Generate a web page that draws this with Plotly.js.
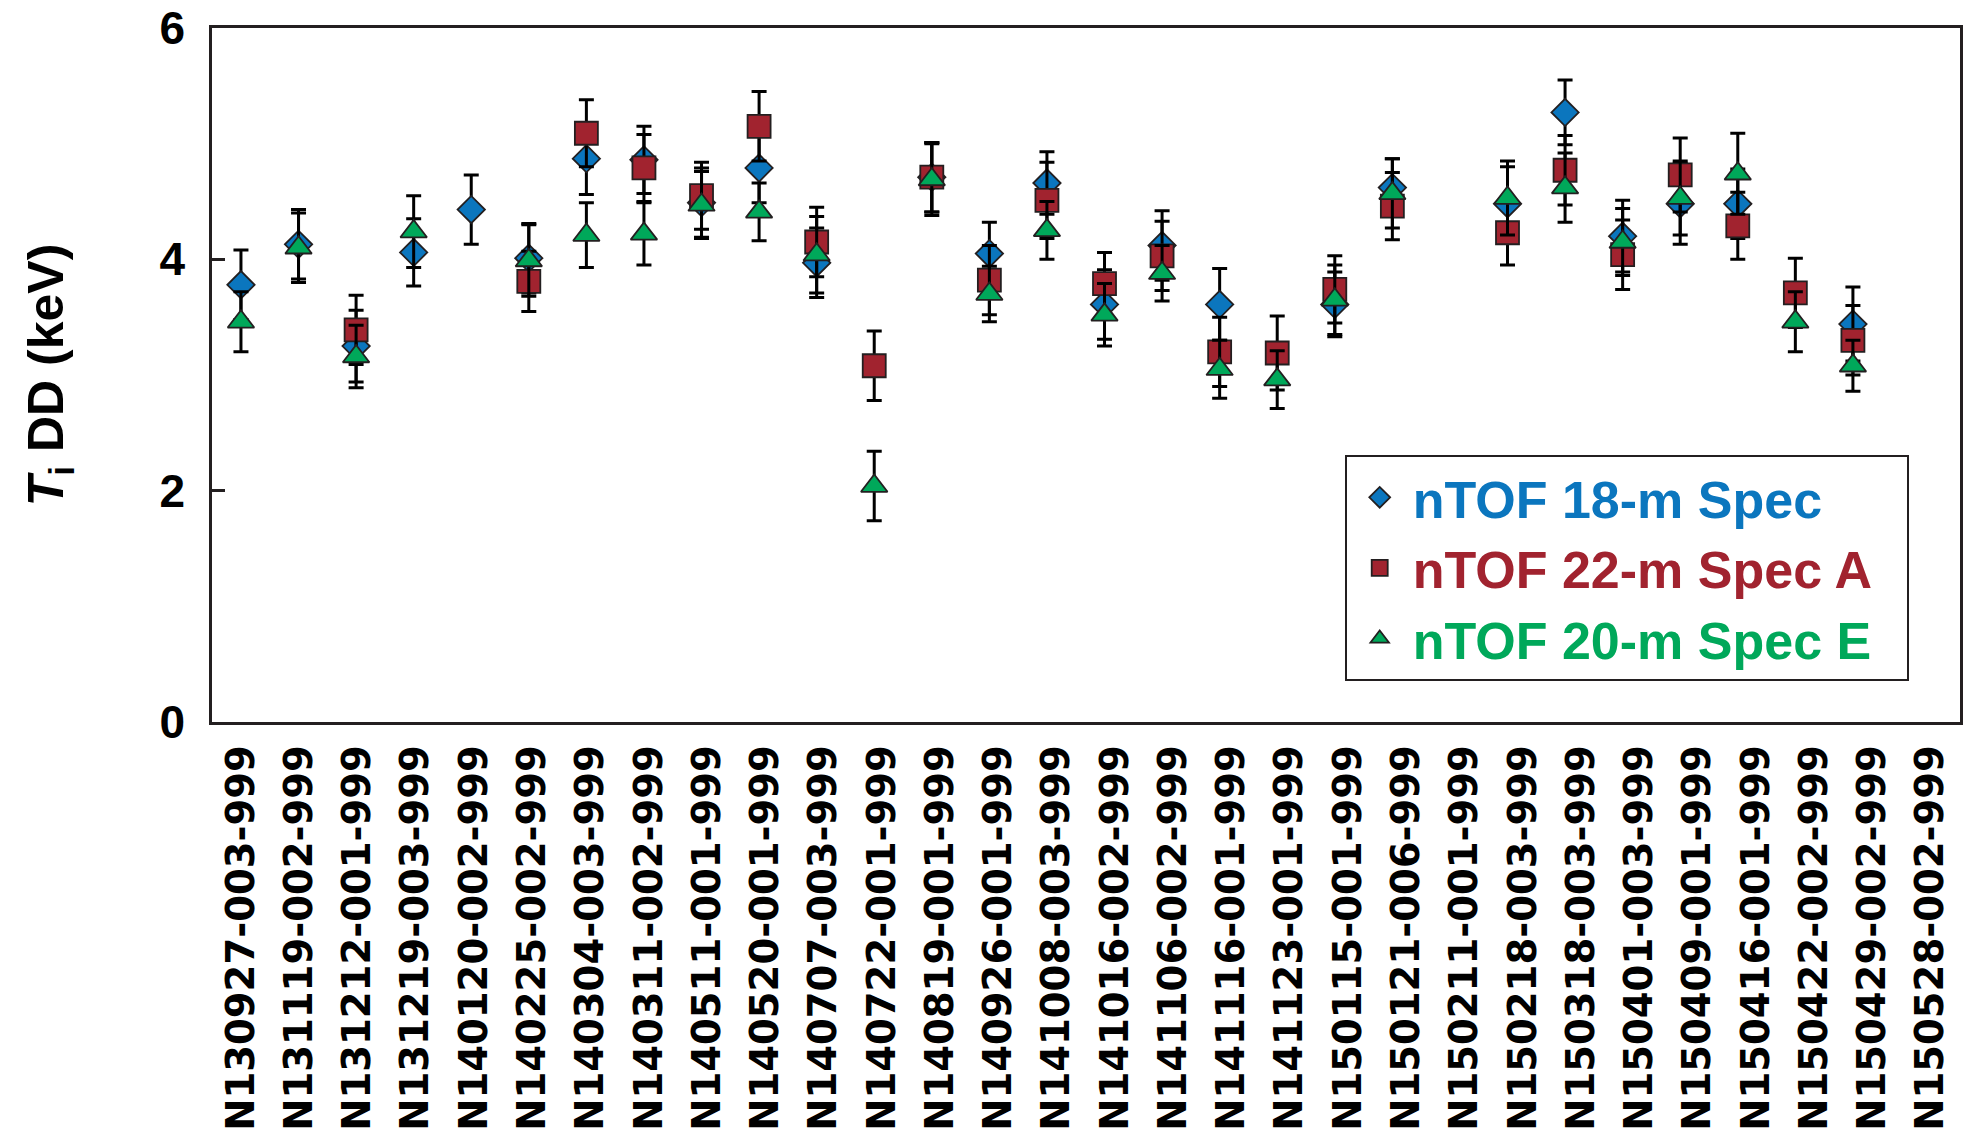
<!DOCTYPE html>
<html>
<head>
<meta charset="utf-8">
<script src="https://cdn.plot.ly/plotly-3.0.1.min.js"></script>
<style>
html,body{margin:0;padding:0;background:#ffffff;}
#chart{width:1967px;height:1130px;}
</style>
</head>
<body>
<div id="chart"></div>
<script>
// Shot numbers (x categories)
const shots = [
  "N130927-003-999","N131119-002-999","N131212-001-999","N131219-003-999",
  "N140120-002-999","N140225-002-999","N140304-003-999","N140311-002-999",
  "N140511-001-999","N140520-001-999","N140707-003-999","N140722-001-999",
  "N140819-001-999","N140926-001-999","N141008-003-999","N141016-002-999",
  "N141106-002-999","N141116-001-999","N141123-001-999","N150115-001-999",
  "N150121-006-999","N150211-001-999","N150218-003-999","N150318-003-999",
  "N150401-003-999","N150409-001-999","N150416-001-999","N150422-002-999",
  "N150429-002-999","N150528-002-999"
];

// nTOF 18-m Spec (keV)
const spec18 = [3.78,4.13,3.25,4.06,4.43,4.01,4.87,4.86,4.49,4.79,
                3.97,null,4.71,4.05,4.66,3.61,4.12,3.61,null,3.61,
                4.62,null,4.48,5.27,4.20,4.48,4.48,null,3.44,null];
const spec18Err = [0.30,0.30,0.31,0.29,0.30,0.30,0.31,0.29,0.30,0.30,
                   0.30,null,0.30,0.27,0.27,0.30,0.30,0.31,null,0.28,
                   0.25,null,0.32,0.28,0.31,0.35,0.30,null,0.32,null];

// nTOF 22-m Spec A (keV)
const spec22A = [null,null,3.39,null,null,3.81,5.09,4.79,4.55,5.15,
                 4.15,3.08,4.71,3.82,4.51,3.79,4.03,3.20,3.19,3.74,
                 4.46,null,4.23,4.77,4.04,4.73,4.29,3.71,3.30,null];
const spec22AErr = [null,null,0.30,null,null,0.26,0.29,0.29,0.29,0.30,
                    0.30,0.30,0.30,0.30,0.33,0.27,0.30,0.30,0.32,0.29,
                    0.29,null,0.28,0.30,0.30,0.32,0.29,0.30,0.30,null];

// nTOF 20-m Spec E (keV)
const spec20E = [3.46,4.10,3.16,4.24,null,3.99,4.21,4.22,4.47,4.41,
                 4.04,2.04,4.69,3.70,4.25,3.52,3.88,3.05,2.96,3.65,
                 4.57,null,4.53,4.62,4.15,4.53,4.74,3.46,3.08,null];
const spec20EErr = [0.26,0.30,0.27,0.31,null,0.31,0.28,0.27,0.29,0.25,
                    0.33,0.30,0.31,0.24,0.25,0.27,0.24,0.25,0.25,0.30,
                    0.30,null,0.32,0.30,0.29,0.32,0.35,0.26,0.22,null];

const yTicks = [0, 2, 4, 6];

const frame = '#231f20';
const blue = '#0b76be', red = '#a1232f', green = '#00a85a';

function series(name, color, symbol, size, y, err) {
  return {
    type: 'scatter', mode: 'markers',
    name: '<span style="color:' + color + '">' + name + '\u00a0\u00a0</span>',
    x: shots, y: y, xaxis: 'x2', yaxis: 'y',
    marker: {symbol: symbol, size: size, color: color, line: {color: frame, width: 1.8}},
    error_y: {type: 'data', array: err, visible: true, color: '#000000', thickness: 3, width: 7.5},
    hoverinfo: 'x+y'
  };
}

const traces = [
  // carrier for the labelled category axis and the right-hand ticks (draws nothing)
  {type: 'scatter', mode: 'none', x: shots, y: shots.map(() => null),
   xaxis: 'x', yaxis: 'y2', showlegend: false, hoverinfo: 'skip'},
  series('nTOF 18-m Spec', blue, 'diamond', 21, spec18, spec18Err),
  series('nTOF 22-m Spec A', red, 'square', 23, spec22A, spec22AErr),
  series('nTOF 20-m Spec E', green, 'triangle-up', 23, spec20E, spec20EErr)
];

const layout = {
  width: 1967, height: 1130,
  margin: {l: 212, r: 7, t: 28, b: 408},
  paper_bgcolor: '#ffffff', plot_bgcolor: '#ffffff',
  showlegend: true,
  legend: {
    x: 0.648, xanchor: 'left', y: 0.059, yanchor: 'bottom',
    bgcolor: '#ffffff', bordercolor: frame, borderwidth: 2,
    font: {family: 'Liberation Sans, Arial, sans-serif', size: 52, weight: 'bold'},
    itemsizing: 'trace', itemwidth: 56, tracegroupgap: 0
  },
  xaxis: {
    type: 'category', categoryorder: 'array', categoryarray: shots,
    range: [-0.5, 29.5], tickson: 'boundaries',
    ticks: 'inside', ticklen: 29, tickwidth: 2.5, tickcolor: frame,
    showline: true, linecolor: frame, linewidth: 2.5, mirror: 'ticks',
    showgrid: false, zeroline: false, tickangle: -90,
    tickfont: {family: 'DejaVu Sans, sans-serif', size: 38.5, weight: 'bold', color: '#000000'},
    ticklabelstandoff: 5, fixedrange: true
  },
  xaxis2: {
    type: 'category', categoryorder: 'array', categoryarray: shots,
    overlaying: 'x', range: [-0.503, 29.86], visible: false, fixedrange: true
  },
  yaxis: {
    range: [0, 6], tickvals: yTicks,
    ticks: 'inside', ticklen: 13, tickwidth: 2.5, tickcolor: frame,
    showline: true, linecolor: frame, linewidth: 2.5, mirror: true,
    showgrid: false, zeroline: false,
    tickfont: {family: 'Liberation Sans, Arial, sans-serif', size: 46, weight: 'bold', color: '#000000'},
    ticklabelstandoff: 15,
    title: {text: '<i>T</i><sub>i</sub> DD (keV)', standoff: 80,
            font: {family: 'Liberation Sans, Arial, sans-serif', size: 50, weight: 'bold', color: '#000000'}},
    fixedrange: true
  },
  yaxis2: {
    overlaying: 'y', side: 'right', range: [0, 6], tickvals: yTicks,
    ticks: 'inside', ticklen: 28, tickwidth: 2.5, tickcolor: frame,
    showticklabels: false, showline: false, showgrid: false, zeroline: false, fixedrange: true
  }
};

Plotly.newPlot('chart', traces, layout, {displayModeBar: false, staticPlot: false});
</script>
</body>
</html>
